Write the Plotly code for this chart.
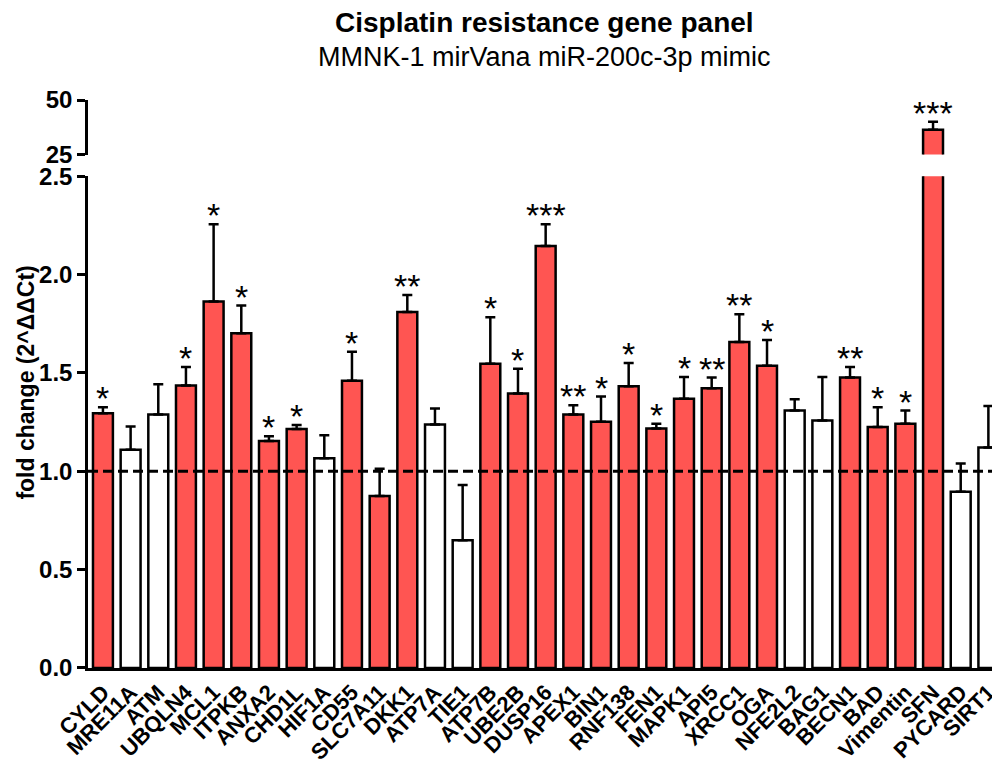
import plotly.graph_objects as go

genes = ["CYLD", "MRE11A", "ATM", "UBQLN4", "MCL1", "ITPKB", "ANXA2", "CHD1L", "HIF1A",
         "CD55", "SLC7A11", "DKK1", "ATP7A", "TIE1", "ATP7B", "UBE2B", "DUSP16", "APEX1",
         "BIN1", "RNF138", "FEN1", "MAPK1", "API5", "XRCC1", "OGA", "NFE2L2", "BAG1",
         "BECN1", "BAD", "Vimentin", "SFN", "PYCARD", "SIRT1"]
fold_change = [1.295, 1.110, 1.289, 1.436, 1.863, 1.702, 1.154, 1.215, 1.067,
               1.460, 0.875, 1.810, 1.238, 0.650, 1.547, 1.396, 2.146, 1.289,
               1.252, 1.433, 1.218, 1.369, 1.423, 1.658, 1.537, 1.309, 1.259,
               1.477, 1.225, 1.242, 36.4, 0.896, 1.121]
error_top = [1.326, 1.228, 1.443, 1.531, 2.257, 1.843, 1.178, 1.235, 1.183,
             1.608, 1.013, 1.897, 1.319, 0.930, 1.783, 1.521, 2.257, 1.336,
             1.380, 1.551, 1.242, 1.480, 1.477, 1.799, 1.668, 1.366, 1.480,
             1.531, 1.326, 1.309, 40.0, 1.040, 1.332]
significance = ["*", "", "", "*", "*", "*", "*", "*", "",
                "*", "", "**", "", "", "*", "*", "***", "**",
                "*", "*", "*", "*", "**", "**", "*", "", "",
                "**", "*", "*", "***", "", ""]
changed = [True, False, False, True, True, True, True, True, False,
           True, True, True, False, False, True, True, True, True,
           True, True, True, True, True, True, True, False, False,
           True, True, True, True, False, False]

lower_ticks = [0.0, 0.5, 1.0, 1.5, 2.0, 2.5]
upper_ticks = [25, 50]

RED = "#FF5552"
FONT = "Liberation Sans, Arial, sans-serif"

colors = [RED if c else "white" for c in changed]
err_plus = [e - v for e, v in zip(error_top, fold_change)]
err_minus = [0] * len(genes)

def bar_trace(yaxis):
    return go.Bar(
        x=genes, y=fold_change, yaxis=yaxis, xaxis="x",
        width=0.72,
        marker=dict(color=colors, line=dict(color="black", width=2.5)),
        error_y=dict(type="data", symmetric=False, array=err_plus, arrayminus=err_minus,
                     color="black", thickness=2.5, width=5),
        showlegend=False, hoverinfo="x+y",
    )

fig = go.Figure()
fig.add_trace(bar_trace("y"))
fig.add_trace(bar_trace("y2"))

ann = []
for g, e, s in zip(genes, error_top, significance):
    if not s:
        continue
    yref = "y2" if e > 2.5 else "y"
    ann.append(dict(x=g, y=e, xref="x", yref=yref, text=s, showarrow=False,
                    yanchor="bottom", yshift=-12,
                    font=dict(family=FONT, size=34, color="black")))

ann.append(dict(x=0.5, y=1.136, xref="paper", yref="paper", showarrow=False,
                text="Cisplatin resistance gene panel", yanchor="middle",
                font=dict(family=FONT, size=28, color="black", weight="bold")))
ann.append(dict(x=0.5, y=1.075, xref="paper", yref="paper", showarrow=False,
                text="MMNK-1 mirVana miR-200c-3p mimic", yanchor="middle",
                font=dict(family=FONT, size=27, color="black")))
ann.append(dict(x=-0.069, y=0.5026, xref="paper", yref="paper", showarrow=False,
                text="fold change (2^ΔΔCt)", textangle=-90,
                xanchor="center", yanchor="middle",
                font=dict(family=FONT, size=23, color="black", weight="bold")))

fig.update_layout(
    width=992, height=757,
    margin=dict(l=80, r=0, t=92, b=92),
    plot_bgcolor="white", paper_bgcolor="white",
    bargap=0.2,
    font=dict(family=FONT, color="black"),
    xaxis=dict(
        type="category", range=[-0.54, 32.42],
        showline=True, linecolor="black", linewidth=2.5,
        ticks="", tickangle=-45, showgrid=False, zeroline=False,
        tickfont=dict(family=FONT, size=22, color="black", weight="bold"),
        anchor="y",
    ),
    yaxis=dict(
        domain=[0, 0.8656], range=[0, 2.5],
        tickvals=lower_ticks, ticktext=[f"{t:.1f}" for t in lower_ticks],
        showline=True, linecolor="black", linewidth=2.5,
        ticks="outside", ticklen=8, tickwidth=2.5, tickcolor="black",
        showgrid=False, zeroline=False, anchor="x",
        tickfont=dict(family=FONT, size=24, color="black", weight="bold"),
    ),
    yaxis2=dict(
        domain=[0.904, 1], range=[25, 50],
        tickvals=upper_ticks, ticktext=[str(t) for t in upper_ticks],
        showline=True, linecolor="black", linewidth=2.5,
        ticks="outside", ticklen=8, tickwidth=2.5, tickcolor="black",
        showgrid=False, zeroline=False, anchor="x",
        tickfont=dict(family=FONT, size=24, color="black", weight="bold"),
    ),
    annotations=ann,
    shapes=[dict(type="line", xref="paper", x0=0, x1=1, yref="y", y0=1, y1=1,
                 line=dict(color="black", width=3, dash="10px,5px"), layer="above")],
)

fig.write_html("out.html")
